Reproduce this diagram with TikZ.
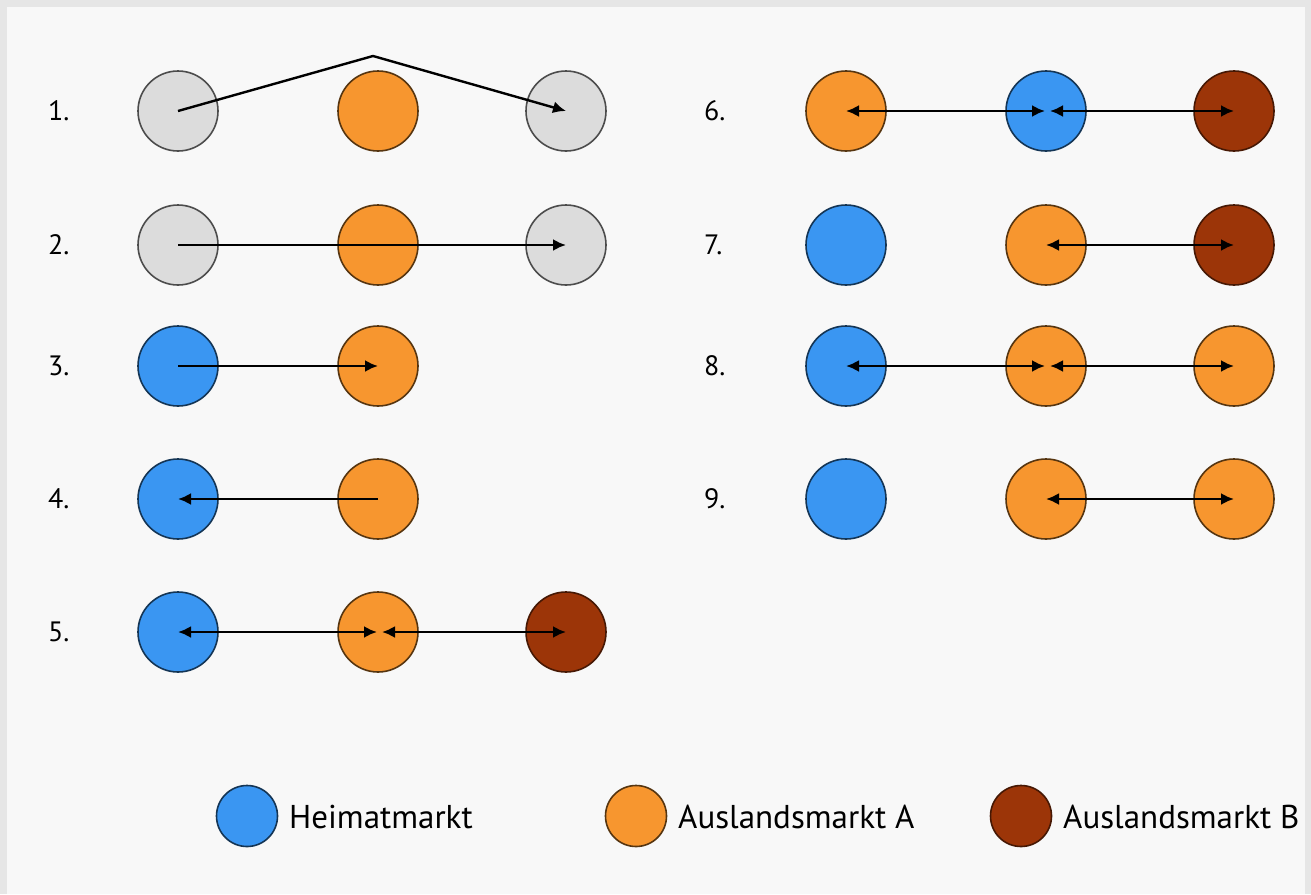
\documentclass[tikz,border=0pt]{standalone}
\usepackage{fontspec}
\setmainfont{PT Sans}
\usetikzlibrary{arrows.meta}
\definecolor{frame}{HTML}{E6E6E6}
\definecolor{bg}{HTML}{F8F8F8}
\definecolor{greyfill}{HTML}{DCDCDC}
\definecolor{orangefill}{HTML}{F7962F}
\definecolor{bluefill}{HTML}{3A96F2}
\definecolor{brownfill}{HTML}{9C3508}
\begin{document}
\begin{tikzpicture}[x=1pt,y=-1pt,
  mkt/.style={circle, minimum size=80pt, inner sep=0pt, line width=1.6pt},
  neutral/.style={mkt, fill=greyfill, draw=black!70},
  fa/.style={mkt, fill=orangefill, draw=orangefill!35!black},
  home/.style={mkt, fill=bluefill, draw=bluefill!35!black},
  fb/.style={mkt, fill=brownfill, draw=brownfill!45!black},
  small/.style={minimum size=61pt},
  lab/.style={anchor=west, font=\fontsize{28}{30}\selectfont, inner sep=0pt},
  legtext/.style={anchor=west, font=\fontsize{33}{35}\selectfont, inner sep=0pt},
  conn/.style={line width=2.4pt, -{Latex[length=13pt,width=12pt]}},
  both/.style={line width=2.4pt, {Latex[length=13pt,width=12pt]}-{Latex[length=13pt,width=12pt]}}
]
\useasboundingbox (0,0) rectangle (1311,894);
\fill[frame] (0,0) rectangle (1311,894);
\fill[bg] (7,7) rectangle (1305,894);

% row labels
\node[lab] (l1) at (48,111) {1.};
\node[lab] (l2) at (48,245) {2.};
\node[lab] (l3) at (48,366) {3.};
\node[lab] (l4) at (48,499) {4.};
\node[lab] (l5) at (48,632) {5.};
\node[lab] (l6) at (704,111) {6.};
\node[lab] (l7) at (704,245) {7.};
\node[lab] (l8) at (704,366) {8.};
\node[lab] (l9) at (704,499) {9.};

% row 1
\node[neutral] (a1) at (178,111) {};
\node[fa]      (b1) at (378,111) {};
\node[neutral] (c1) at (566,111) {};
\coordinate (apex) at (373,56);
\draw[conn] (a1.center) -- (apex) -- (c1.center);

% row 2
\node[neutral] (a2) at (178,245) {};
\node[fa]      (b2) at (378,245) {};
\node[neutral] (c2) at (566,245) {};
\draw[conn] (a2.center) -- (c2.center);

% row 3
\node[home] (a3) at (178,366) {};
\node[fa]   (b3) at (378,366) {};
\draw[conn] (a3.center) -- (b3.center);

% row 4
\node[home] (a4) at (178,499) {};
\node[fa]   (b4) at (378,499) {};
\draw[conn] (b4.center) -- (a4.center);

% row 5
\node[home] (a5) at (178,632) {};
\node[fa]   (b5) at (378,632) {};
\node[fb]   (c5) at (566,632) {};
\draw[both] (a5.center) -- ([xshift=-1pt]b5.center);
\draw[both] ([xshift=4pt]b5.center) -- (c5.center);

% row 6
\node[fa]   (a6) at (846,111) {};
\node[home] (b6) at (1046,111) {};
\node[fb]   (c6) at (1234,111) {};
\draw[both] (a6.center) -- ([xshift=-1pt]b6.center);
\draw[both] ([xshift=4pt]b6.center) -- (c6.center);

% row 7
\node[home] (a7) at (846,245) {};
\node[fa]   (b7) at (1046,245) {};
\node[fb]   (c7) at (1234,245) {};
\draw[both] (b7.center) -- (c7.center);

% row 8
\node[home] (a8) at (846,366) {};
\node[fa]   (b8) at (1046,366) {};
\node[fa]   (c8) at (1234,366) {};
\draw[both] (a8.center) -- ([xshift=-1pt]b8.center);
\draw[both] ([xshift=4pt]b8.center) -- (c8.center);

% row 9
\node[home] (a9) at (846,499) {};
\node[fa]   (b9) at (1046,499) {};
\node[fa]   (c9) at (1234,499) {};
\draw[both] (b9.center) -- (c9.center);

% legend
\node[home, small] (lh) at (247,816) {};
\node[legtext] (th) at (289,817) {Heimatmarkt};
\node[fa, small] (la) at (636,816) {};
\node[legtext] (ta) at (678,817) {Auslandsmarkt A};
\node[fb, small] (lb) at (1021,816) {};
\node[legtext] (tb) at (1063,817) {Auslandsmarkt B};
\end{tikzpicture}
\end{document}
